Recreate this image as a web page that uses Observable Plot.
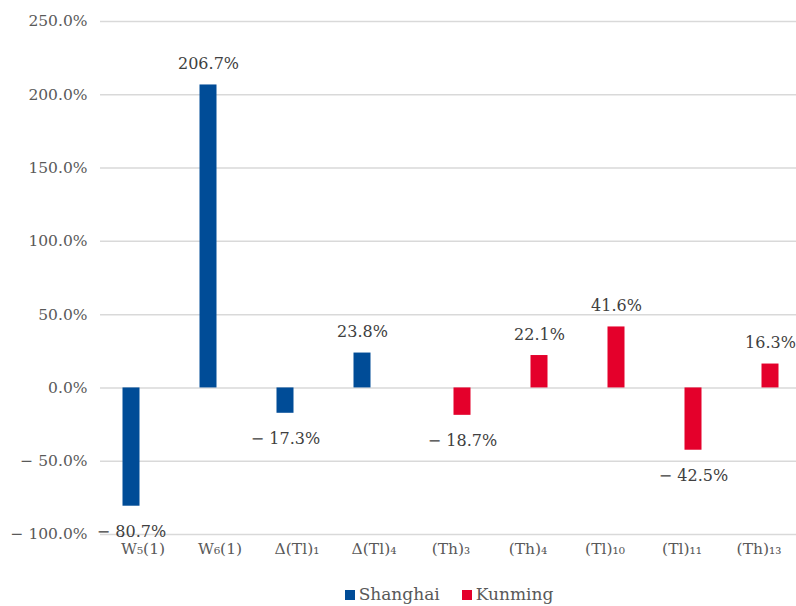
<!DOCTYPE html>
<html>
<head>
<meta charset="utf-8">
<script src="https://cdn.jsdelivr.net/npm/d3@7"></script>
<script src="https://cdn.jsdelivr.net/npm/@observablehq/plot@0.6"></script>
<style>
  body { margin: 0; background: #fff; }
  #legend { display: flex; justify-content: center; gap: 22px; width: 796px; padding-left: 102px; box-sizing: border-box;
    font-family: "DejaVu Serif", serif; font-size: 17px; line-height: 20px; color: #595959; margin-top: 13px; }
  #legend span.sw { display: inline-block; width: 10px; height: 10px; margin-right: 4px; vertical-align: 0px; }
</style>
</head>
<body>
<div id="chart"></div>
<div id="legend"></div>
<script>
const categories = ["W\u2085(1)", "W\u2086(1)", "\u0394(Tl)\u2081", "\u0394(Tl)\u2084", "(Th)\u2083", "(Th)\u2084", "(Tl)\u2081\u2080", "(Tl)\u2081\u2081", "(Th)\u2081\u2083"];
const values = [-80.7, 206.7, -17.3, 23.8, -18.7, 22.1, 41.6, -42.5, 16.3];
const cities = ["Shanghai", "Shanghai", "Shanghai", "Shanghai", "Kunming", "Kunming", "Kunming", "Kunming", "Kunming"];
const seriesNames = ["Shanghai", "Kunming"];
const seriesColors = ["#004C97", "#E4002B"];
const yTicks = [-100, -50, 0, 50, 100, 150, 200, 250];

const data = categories.map((c, i) => ({category: c, value: values[i], city: cities[i]}));
const fmt = d => (d < 0 ? "\u2212 " + Math.abs(d).toFixed(1) : d.toFixed(1)) + "%";
const offsets = {Shanghai: -11.5, Kunming: 11.5};

const marks = [Plot.gridY(yTicks, {stroke: "#d9d9d9", strokeOpacity: 1, strokeWidth: 1.5})];
for (const s of seriesNames) {
  const sub = data.filter(d => d.city === s);
  marks.push(Plot.barY(sub, {x: "category", y: "value", fill: "city", dx: offsets[s]}));
  marks.push(Plot.text(sub.filter(d => d.value >= 0), {x: "category", y: "value", text: d => fmt(d.value), dx: offsets[s], dy: -21, fill: "#404040", fontSize: 16}));
  marks.push(Plot.text(sub.filter(d => d.value < 0), {x: "category", y: "value", text: d => fmt(d.value), dx: offsets[s], dy: 26, fill: "#404040", fontSize: 16}));
}

const chart = Plot.plot({
  width: 796,
  height: 571,
  marginLeft: 100,
  marginRight: 0,
  marginTop: 21,
  marginBottom: 37,
  style: {fontFamily: "'DejaVu Serif', serif", fontSize: "15.5px", color: "#595959", background: "#fff", overflow: "visible"},
  x: {domain: categories, range: [101, 801], paddingInner: 0.775, paddingOuter: 0.3875, label: null, tickSize: 0, tickPadding: 8},
  y: {domain: [-100, 250], ticks: yTicks, tickFormat: fmt, label: null, tickSize: 0, tickPadding: 13},
  color: {domain: seriesNames, range: seriesColors},
  marks
});
document.getElementById("chart").appendChild(chart);

const legend = document.getElementById("legend");
seriesNames.forEach((s, i) => {
  const item = document.createElement("div");
  item.innerHTML = `<span class="sw" style="background:${seriesColors[i]}"></span>${s}`;
  legend.appendChild(item);
});
</script>
</body>
</html>
